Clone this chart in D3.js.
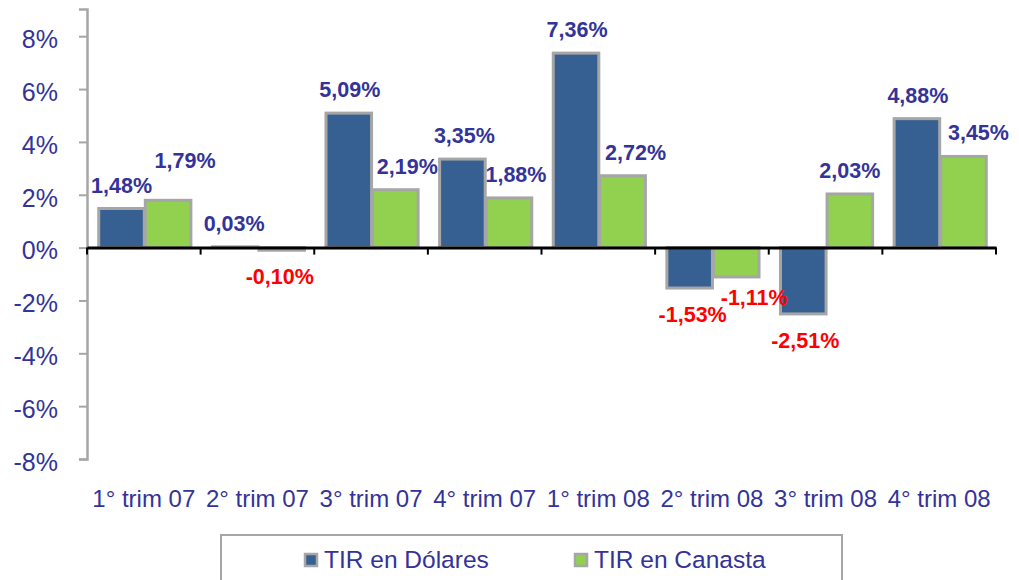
<!DOCTYPE html>
<html>
<head>
<meta charset="utf-8">
<script src="https://cdn.jsdelivr.net/npm/d3@7"></script>
<style>
  body { margin: 0; background: #fff; }
  svg text { font-family: "Liberation Sans", Arial, sans-serif; }
</style>
</head>
<body>
<div id="chart"></div>
<script>
// data
const categories = ["1° trim 07", "2° trim 07", "3° trim 07", "4° trim 07",
                    "1° trim 08", "2° trim 08", "3° trim 08", "4° trim 08"];
const tirDolares = [1.48, 0.03, 5.09, 3.35, 7.36, -1.53, -2.51, 4.88];
const tirCanasta = [1.79, -0.10, 2.19, 1.88, 2.72, -1.11, 2.03, 3.45];
const yTicks = [-8, -6, -4, -2, 0, 2, 4, 6, 8];
const seriesNames = ["TIR en Dólares", "TIR en Canasta"];

// manual label nudges (like the hand-placed labels in the original)
const dolLabelDx = [1, 0, 2, 3, 2, 4, 3, 2];
const canLabelDx = [18, -1, 13, 8, 14, 19, 1, 16];
const canLabelDy = [-16, 0, 0, 0, 0, -6, 0, 0];

const width = 1019, height = 580;
const textBlue = "#333399";
const colors = ["#376092", "#92d050"];
const borderGray = "#a6a6a6";

// "1,48%" style, with a plain hyphen for negatives
const fmt = v => (v < 0 ? "-" : "") + Math.abs(v).toFixed(2).replace(".", ",") + "%";

const svg = d3.select("#chart").append("svg")
  .attr("width", width)
  .attr("height", height);

/* scales */
const x = d3.scaleBand()
  .domain(categories)
  .range([87, 996]);

const inner = d3.scaleBand()
  .domain([0, 1])
  .range([0, x.bandwidth()])
  .paddingOuter(0.22)
  .paddingInner(0);

const y = d3.scaleLinear()
  .domain([-8, 9.03])
  .range([459, 9]);

/* y axis */
const yAxis = svg.append("g")
  .attr("transform", "translate(87,0)")
  .call(d3.axisLeft(y).tickValues(yTicks).tickSize(8).tickPadding(21)
    .tickFormat(d => d + "%"));
yAxis.select(".domain").attr("stroke", borderGray).attr("stroke-width", 2.5);
yAxis.selectAll(".tick line").attr("stroke", borderGray).attr("stroke-width", 2);
yAxis.selectAll(".tick text")
  .attr("fill", textBlue)
  .attr("font-size", "25px")
  .attr("dy", "0.45em");

/* bars */
const series = [tirDolares, tirCanasta];
series.forEach((vals, s) => {
  svg.append("g")
    .selectAll("rect")
    .data(vals)
    .enter()
    .append("rect")
    .attr("x", (d, i) => x(categories[i]) + inner(s) + 1.5)
    .attr("y", d => y(Math.max(0, d)))
    .attr("width", inner.bandwidth() - 1)
    .attr("height", d => Math.abs(y(d) - y(0)))
    .attr("fill", colors[s])
    .attr("stroke", borderGray)
    .attr("stroke-width", 3);
});

/* x axis (zero line) */
const xAxis = svg.append("g")
  .attr("transform", `translate(0,${y(0)})`)
  .call(d3.axisBottom(x).tickSize(0).tickFormat(""));
xAxis.select(".domain").attr("stroke", "#000").attr("stroke-width", 3);
xAxis.selectAll(".tick").remove();

svg.append("g")
  .selectAll("line")
  .data(d3.range(categories.length + 1))
  .enter()
  .append("line")
  .attr("x1", i => 87 + i * x.step())
  .attr("x2", i => 87 + i * x.step())
  .attr("y1", y(0))
  .attr("y2", y(0) + 7)
  .attr("stroke", "#000")
  .attr("stroke-width", 2);

/* category labels */
svg.append("g")
  .selectAll("text")
  .data(categories)
  .enter()
  .append("text")
  .attr("x", d => x(d) + x.bandwidth() / 2)
  .attr("y", 507)
  .attr("text-anchor", "middle")
  .attr("fill", textBlue)
  .attr("font-size", "24px")
  .text(d => d);

/* data labels */
series.forEach((vals, s) => {
  svg.append("g")
    .selectAll("text")
    .data(vals)
    .enter()
    .append("text")
    .attr("x", (d, i) => x(categories[i]) + inner(s) + inner.bandwidth() / 2 +
      (s === 0 ? dolLabelDx[i] : canLabelDx[i]))
    .attr("y", (d, i) => (d >= 0 ? y(d) - 16 : y(d) + 34) + (s === 1 ? canLabelDy[i] : 0))
    .attr("text-anchor", "middle")
    .attr("font-size", "21.5px")
    .attr("font-weight", "bold")
    .attr("fill", d => d < 0 ? "#ff0000" : textBlue)
    .text(d => fmt(d));
});

/* legend */
const legend = svg.append("g");
legend.append("rect")
  .attr("x", 221)
  .attr("y", 535)
  .attr("width", 621)
  .attr("height", 70)
  .attr("fill", "#fff")
  .attr("stroke", borderGray)
  .attr("stroke-width", 2);

const legendX = [304, 574];
seriesNames.forEach((name, s) => {
  legend.append("rect")
    .attr("x", legendX[s] + 1)
    .attr("y", 554)
    .attr("width", 12)
    .attr("height", 12)
    .attr("fill", colors[s])
    .attr("stroke", borderGray)
    .attr("stroke-width", 2.5);
  legend.append("text")
    .attr("x", legendX[s] + 20)
    .attr("y", 568)
    .attr("fill", textBlue)
    .attr("font-size", "24.5px")
    .text(name);
});
</script>
</body>
</html>
